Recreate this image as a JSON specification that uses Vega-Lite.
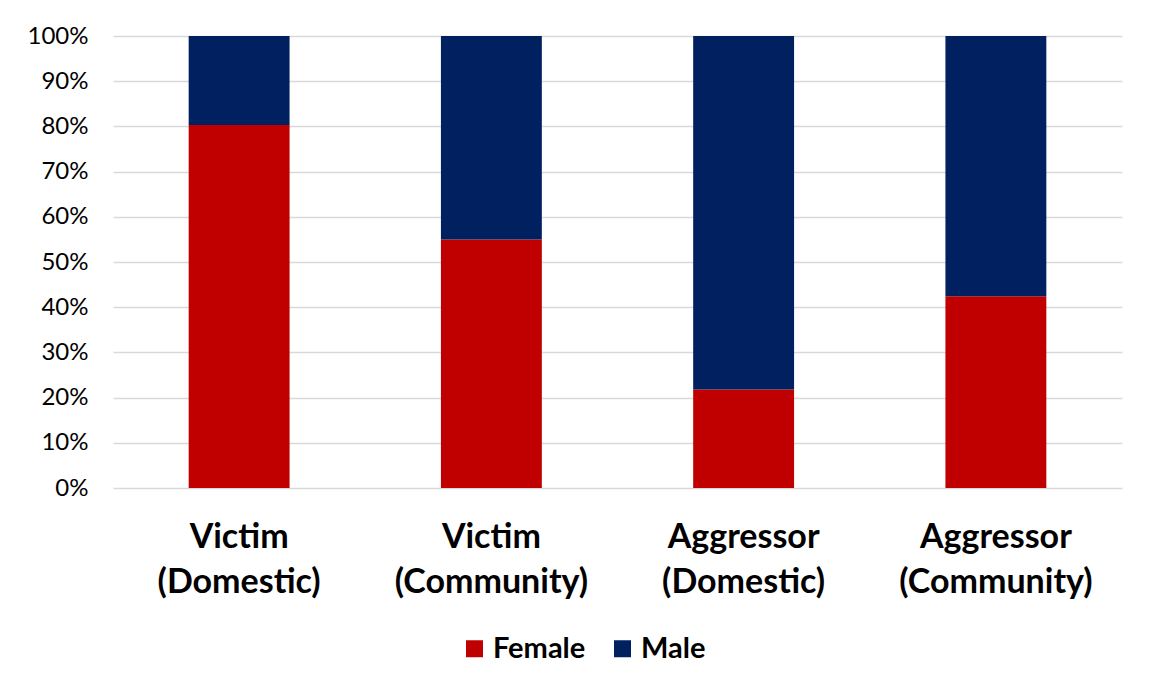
{
  "$schema": "https://vega.github.io/schema/vega-lite/v6.json",
  "width": 1009,
  "height": 452,
  "autosize": "none",
  "padding": {"left": 113, "top": 36, "right": 31, "bottom": 198},
  "background": "white",
  "data": {
    "values": [
      {"role": "Victim (Domestic)", "gender": "Female", "pct": 80.3},
      {"role": "Victim (Domestic)", "gender": "Male", "pct": 19.7},
      {"role": "Victim (Community)", "gender": "Female", "pct": 55.0},
      {"role": "Victim (Community)", "gender": "Male", "pct": 45.0},
      {"role": "Aggressor (Domestic)", "gender": "Female", "pct": 21.8},
      {"role": "Aggressor (Domestic)", "gender": "Male", "pct": 78.2},
      {"role": "Aggressor (Community)", "gender": "Female", "pct": 42.4},
      {"role": "Aggressor (Community)", "gender": "Male", "pct": 57.6}
    ]
  },
  "mark": {"type": "bar"},
  "encoding": {
    "x": {
      "field": "role",
      "type": "nominal",
      "sort": null,
      "title": null,
      "scale": {"paddingInner": 0.6, "paddingOuter": 0.3},
      "axis": {
        "labelAngle": 0,
        "domain": false,
        "ticks": false,
        "labelExpr": "split(datum.label, ' ')",
        "labelFont": "Lato",
        "labelFontWeight": "bold",
        "labelFontSize": 34,
        "labelLineHeight": 45,
        "labelLimit": 0,
        "labelColor": "#000000",
        "labelBaseline": "top",
        "labelPadding": 32
      }
    },
    "y": {
      "field": "pct",
      "type": "quantitative",
      "stack": "zero",
      "title": null,
      "scale": {"domain": [0, 100], "nice": false},
      "axis": {
        "values": [0, 10, 20, 30, 40, 50, 60, 70, 80, 90, 100],
        "labelExpr": "datum.value + '%'",
        "domain": false,
        "ticks": false,
        "labelFont": "Lato",
        "labelFontSize": 24,
        "labelColor": "#000000",
        "labelPadding": 25,
        "gridColor": "#d9d9d9",
        "gridWidth": 1.5
      }
    },
    "order": {"field": "gender", "sort": "ascending"},
    "color": {
      "field": "gender",
      "type": "nominal",
      "title": null,
      "scale": {"domain": ["Female", "Male"], "range": ["#C00000", "#002060"]},
      "legend": {
        "orient": "none",
        "direction": "horizontal",
        "legendX": 347,
        "legendY": 598,
        "symbolType": "square",
        "symbolSize": 289,
        "symbolStrokeWidth": 0,
        "labelFont": "Lato",
        "labelFontWeight": "bold",
        "labelFontSize": 29,
        "labelColor": "#000000",
        "labelOffset": 4,
        "columnPadding": 22
      }
    }
  },
  "config": {"view": {"stroke": null}}
}
